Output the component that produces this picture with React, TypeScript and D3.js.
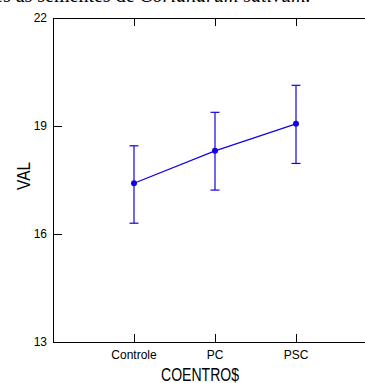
import * as d3 from "d3";
import { useRef, useEffect } from "react";

// group names and the mean / error bar values
const groups = ["Controle", "PC", "PSC"];
const means = [17.41, 18.31, 19.06];
const upper = [18.45, 19.38, 20.13];
const lower = [16.3, 17.22, 17.96];
const yTicks = [13, 16, 19, 22];

const App = () => {
  const container = useRef<SVGSVGElement>(null);

  useEffect(() => {
    createChart();
  });

  const createChart = () => {
    const svg = d3.select(container.current);
    svg.selectAll("*").remove();

    const margins = { l: 53, t: 18 };
    const plot = { width: 324, height: 324 };
    const blue = "#1400e6";

    const xScale = d3
      .scalePoint()
      .domain(groups)
      .range([0, plot.width])
      .padding(1);

    const yScale = d3.scaleLinear().domain([13, 22]).range([plot.height, 0]);

    const data = groups.map((g, i) => ({
      g,
      m: means[i],
      hi: upper[i],
      lo: lower[i],
    }));

    // caption that is cut off by the top edge
    const cap = svg
      .append("text")
      .attr("x", -6)
      .attr("y", 2)
      .style("font-family", "'Liberation Serif', 'Times New Roman', serif")
      .style("font-size", "20px")
      .attr("fill", "#000");
    cap.append("tspan").text("es as sementes de ");
    cap.append("tspan").style("font-style", "italic").text("Coriandrum sativum.");

    const g = svg
      .append("g")
      .attr("transform", `translate(${margins.l}, ${margins.t})`);

    // frame: left, top and bottom lines
    g.append("path")
      .attr("d", `M${plot.width},0.5H0.5V${plot.height + 0.5}H${plot.width}`)
      .attr("fill", "none")
      .attr("stroke", "#000")
      .attr("stroke-width", 1);

    const xs = groups.map((d) => Math.round(xScale(d)!) + 0.5);

    g.selectAll(".xtick-top")
      .data(xs)
      .join("line")
      .attr("x1", (d) => d)
      .attr("x2", (d) => d)
      .attr("y1", 0)
      .attr("y2", 8)
      .attr("stroke", "#000");

    g.selectAll(".xtick-bot")
      .data(xs)
      .join("line")
      .attr("x1", (d) => d)
      .attr("x2", (d) => d)
      .attr("y1", plot.height)
      .attr("y2", plot.height - 8)
      .attr("stroke", "#000");

    g.selectAll(".ytick")
      .data(yTicks)
      .join("line")
      .attr("x1", 0)
      .attr("x2", 9)
      .attr("y1", (d) => Math.round(yScale(d)) + 0.5)
      .attr("y2", (d) => Math.round(yScale(d)) + 0.5)
      .attr("stroke", "#000");

    g.selectAll(".ylab")
      .data(yTicks)
      .join("text")
      .attr("x", -6)
      .attr("y", (d) => yScale(d) + 4)
      .attr("text-anchor", "end")
      .style("font-family", "Arial, 'Liberation Sans', sans-serif")
      .style("font-size", "12px")
      .text((d) => d);

    g.selectAll(".xlab")
      .data(groups)
      .join("text")
      .attr("x", (d) => xScale(d)!)
      .attr("y", plot.height + 17)
      .attr("text-anchor", "middle")
      .style("font-family", "Arial, 'Liberation Sans', sans-serif")
      .style("font-size", "12px")
      .text((d) => d);

    // axis titles
    svg
      .append("text")
      .attr("x", 200)
      .attr("y", 381)
      .attr("text-anchor", "middle")
      .attr("textLength", 78)
      .attr("lengthAdjust", "spacingAndGlyphs")
      .style("font-family", "Arial, 'Liberation Sans', sans-serif")
      .style("font-size", "18px")
      .text("COENTRO$");

    svg
      .append("text")
      .attr("transform", "translate(30, 176) rotate(-90)")
      .attr("text-anchor", "middle")
      .attr("textLength", 28)
      .attr("lengthAdjust", "spacingAndGlyphs")
      .style("font-family", "Arial, 'Liberation Sans', sans-serif")
      .style("font-size", "19px")
      .text("VAL");

    // error bars
    const bars = g.selectAll(".err").data(data).join("g");
    bars
      .append("line")
      .attr("x1", (d) => xScale(d.g)!)
      .attr("x2", (d) => xScale(d.g)!)
      .attr("y1", (d) => yScale(d.hi))
      .attr("y2", (d) => yScale(d.lo))
      .attr("stroke", blue)
      .attr("stroke-width", 1.2);
    bars
      .append("line")
      .attr("x1", (d) => xScale(d.g)! - 4.5)
      .attr("x2", (d) => xScale(d.g)! + 4.5)
      .attr("y1", (d) => yScale(d.hi))
      .attr("y2", (d) => yScale(d.hi))
      .attr("stroke", blue)
      .attr("stroke-width", 1.2);
    bars
      .append("line")
      .attr("x1", (d) => xScale(d.g)! - 4.5)
      .attr("x2", (d) => xScale(d.g)! + 4.5)
      .attr("y1", (d) => yScale(d.lo))
      .attr("y2", (d) => yScale(d.lo))
      .attr("stroke", blue)
      .attr("stroke-width", 1.2);

    g.append("path")
      .datum(data)
      .attr(
        "d",
        d3
          .line<any>()
          .x((d) => xScale(d.g)!)
          .y((d) => yScale(d.m))
      )
      .attr("fill", "none")
      .attr("stroke", blue)
      .attr("stroke-width", 1.2);

    g.selectAll(".pt")
      .data(data)
      .join("circle")
      .attr("cx", (d) => xScale(d.g)!)
      .attr("cy", (d) => yScale(d.m))
      .attr("r", 3)
      .attr("fill", blue);
  };

  return (
    <svg
      ref={container}
      width={365}
      height={383}
      style={{ position: "absolute", left: 0, top: 0, background: "#fff" }}
    ></svg>
  );
};

export default App;
